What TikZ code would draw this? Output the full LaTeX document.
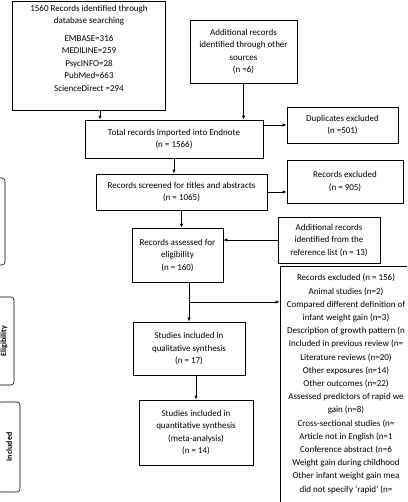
\documentclass[tikz,border=0pt]{standalone}
\usepackage{fontspec}
\setmainfont{Carlito}
\usetikzlibrary{arrows.meta, calc}

\begin{document}
\begin{tikzpicture}[
  x=1pt, y=-1pt,
  box/.style={draw, line width=0.8pt, align=center, inner sep=2pt,
    font=\fontsize{9}{12.5}\selectfont},
  stage/.style={draw, line width=0.6pt, rounded corners=3pt, rotate=90,
    font=\bfseries\fontsize{8}{10}\selectfont},
  arrow/.style={-{Latex[length=4pt,width=3.5pt]}, line width=0.8pt}]
  \useasboundingbox (0,0) rectangle (407,502);
  \clip (0,0) rectangle (407,502);
  % phase labels on the left
  \node[stage, minimum width=87pt, minimum height=15pt] (scr) at (-2.5,221.5) {};
  \node[stage, minimum width=88pt, minimum height=20pt] (elig) at (4,341) {Eligibility};
  \node[stage, minimum width=90pt, minimum height=22pt] (incl) at (9,447) {Included};
  % identification
  \node[box, minimum width=153pt, minimum height=109pt] (db) at (89,56)
    {1560 Records identified through\\ database searching\\[5pt]
     EMBASE=316\\ MEDILINE=259\\ PsycINFO=28\\ PubMed=663\\
     ScienceDirect =294\\[3pt]~};
  \node[box, minimum width=107pt, minimum height=63pt] (add) at (243.5,51.5)
    {Additional records\\ identified through other\\ sources\\ (n =6)};
  \node[box, minimum width=178pt, minimum height=38pt] (total) at (174,139)
    {Total records imported into Endnote\\ (n = 1566)};
  \node[box, minimum width=111pt, minimum height=36pt] (dup) at (342.5,125)
    {Duplicates excluded\\ (n =501)};
  % screening
  \node[box, minimum width=171pt, minimum height=36pt] (screen) at (181.5,192)
    {Records screened for titles and abstracts\\ (n = 1065)};
  \node[box, minimum width=116pt, minimum height=43pt] (excl) at (345,181.5)
    {Records excluded\\ (n = 905)};
  % eligibility
  \node[box, minimum width=102pt, minimum height=46pt] (ref) at (329,240)
    {Additional records\\ identified from the\\ reference list (n = 13)};
  \node[box, minimum width=91pt, minimum height=54pt] (assess) at (177.5,255)
    {Records assessed for\\ eligibility\\ (n = 160)};
  \node[box, minimum width=132pt, minimum height=236pt,
    font=\fontsize{9}{13.2}\selectfont] (excl2) at (346,384)
    {Records excluded (n = 156)\\ Animal studies (n=2)\\
     Compared different definition of\\ infant weight gain (n=3)\\
     Description of growth pattern (n\\ Included in previous review (n=\\
     Literature reviews (n=20)\\ Other exposures (n=14)\\
     Other outcomes (n=22)\\ Assessed predictors of rapid we\\
     gain (n=8)\\ Cross-sectional studies (n=\\
     Article not in English (n=1\\ Conference abstract (n=6\\
     Weight gain during childhood\\ Other infant weight gain mea\\
     did not specify ‘rapid’ (n=};
  % included
  \node[box, minimum width=112pt, minimum height=53pt] (qual) at (189,348.5)
    {Studies included in\\ qualitative synthesis\\ (n = 17)};
  \node[box, minimum width=114pt, minimum height=65pt] (quant) at (196,432.5)
    {Studies included in\\ quantitative synthesis\\ (meta-analysis)\\ (n = 14)};
  % connectors
  \coordinate (a1) at (100,0);
  \coordinate (br) at (189,302);
  \draw[arrow] (db.south -| a1) -- (total.north -| a1);
  \draw[arrow] (add.south) -- (add.south |- total.north);
  \draw[arrow] (total.east |- dup.west) -- (dup.west);
  \draw[arrow] (total.south) -- (total.south |- screen.north);
  \draw[arrow] (screen.east) -- (screen.east -| excl.west);
  \draw[arrow] (screen.south) -- (screen.south |- assess.north);
  \draw[arrow] (ref.west) -- (ref.west -| assess.east);
  \draw[arrow] (qual.north |- assess.south) -- (qual.north);
  \draw[arrow] (br) -- (br -| excl2.west);
  \draw[arrow] (quant.north |- qual.south) -- (quant.north);
\end{tikzpicture}
\end{document}
